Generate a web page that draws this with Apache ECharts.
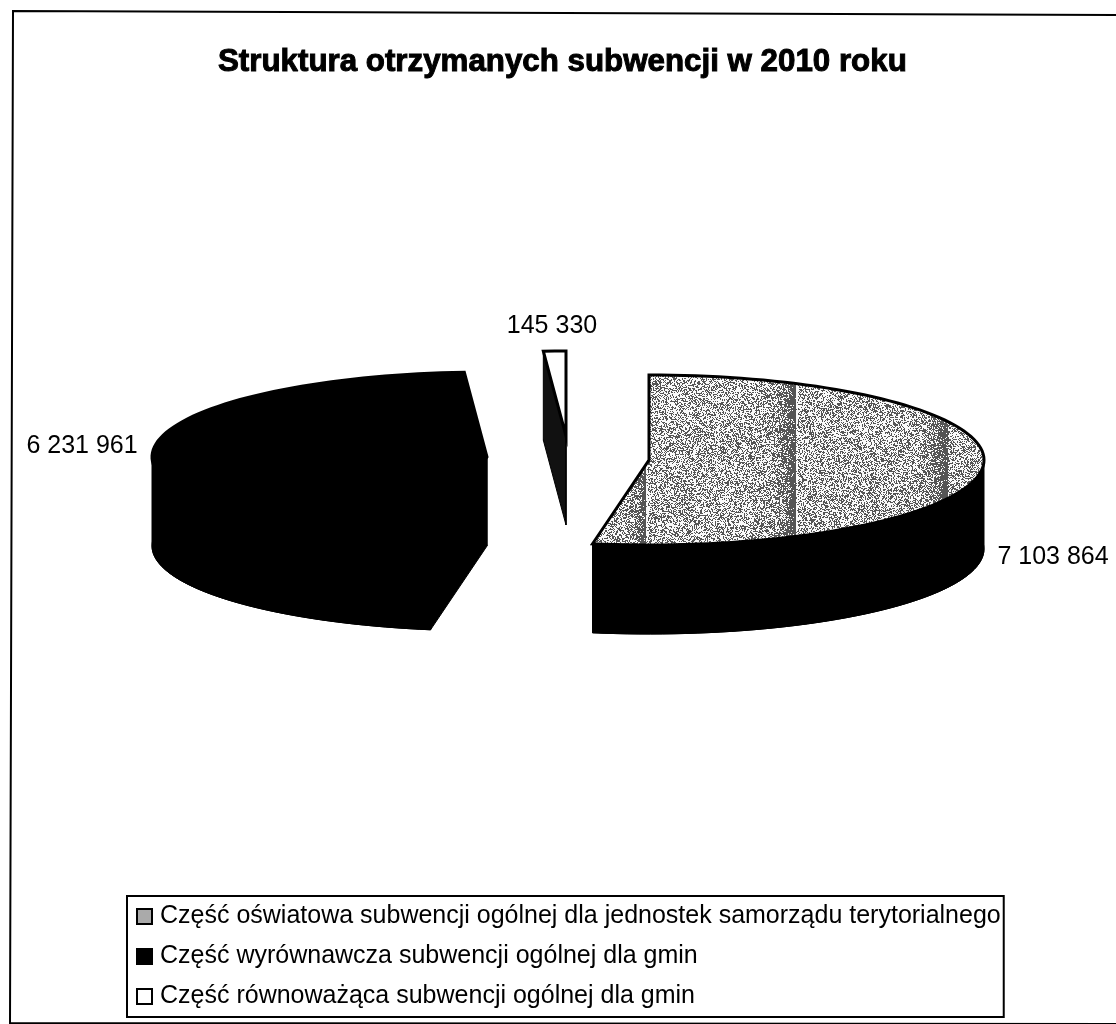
<!DOCTYPE html>
<html>
<head>
<meta charset="utf-8">
<style>html,body{margin:0;padding:0;background:#fff}#pie{width:1116px;height:1024px}</style>
<script src="https://cdn.jsdelivr.net/npm/echarts@6/dist/echarts.min.js"></script>
</head>
<body>
<div id="pie"></div>
<script>
// dane
var titleText = 'Struktura otrzymanych subwencji w 2010 roku';
var categories = [
    'Część oświatowa subwencji ogólnej dla jednostek samorządu terytorialnego',
    'Część wyrównawcza subwencji ogólnej dla gmin',
    'Część równoważąca subwencji ogólnej dla gmin'
];
var values = [7103864, 6231961, 145330];

var total = values.reduce(function (a, b) { return a + b; }, 0);

// uklad kawalkow (rozsuniety pseudo-3D pie)
var slices = [
    {cx: 649, cy: 460, label: [1053, 557], top: null, side: '#000'},
    {cx: 487, cy: 457, label: [82, 446], top: '#000', side: '#000'},
    {cx: 566, cy: 436, label: [552, 326], top: '#fff', side: '#111'}
];
var rx = 335, ry = 85, depth = 89;

function fmt(v) {
    return String(v).replace(/\B(?=(\d{3})+$)/g, ' ');
}

// ziarnista tekstura jak ze skanu, ciemniejsze pasy przy krawedziach cieniowania
function noise(x, y) {
    var h = (x * 374761393 + y * 668265263) | 0;
    h = Math.imul(h ^ (h >>> 13), 1274126177);
    h = h ^ (h >>> 16);
    return (h >>> 0) / 4294967296;
}
function darkness(x) {
    var d = 0.42;
    [[615, 645], [750, 795], [900, 945]].forEach(function (b) {
        if (x > b[0] && x <= b[1]) {
            var t = (x - b[0]) / (b[1] - b[0]);
            d = Math.max(d, 0.42 + 0.55 * t * t * t);
        }
        if (x > b[1] && x <= b[1] + 2) {
            d = b[1] === 945 ? 0.9 : 0.12;
        }
    });
    return d;
}
var tex = document.createElement('canvas');
tex.width = 1116;
tex.height = 1024;
var ctx = tex.getContext('2d');
var img = ctx.createImageData(1116, 1024);
for (var y = 0; y < 1024; y++) {
    for (var x = 0; x < 1116; x++) {
        var c = noise(x, y) < darkness(x) ? 85 : 250;
        var k = (y * 1116 + x) * 4;
        img.data[k] = img.data[k + 1] = img.data[k + 2] = c;
        img.data[k + 3] = 255;
    }
}
ctx.putImageData(img, 0, 0);
var stipple = {image: tex, repeat: 'no-repeat'};

function point(s, deg, dy) {
    var a = deg * Math.PI / 180;
    return [s.cx + rx * Math.sin(a), s.cy - ry * Math.cos(a) + (dy || 0)];
}
function arc(s, from, to, dy) {
    var pts = [];
    var n = Math.max(2, Math.ceil((to - from) / 2));
    for (var i = 0; i <= n; i++) {
        pts.push(point(s, from + (to - from) * i / n, dy));
    }
    return pts;
}

function makeSeries(idx) {
    var start = 0;
    for (var i = 0; i < idx; i++) {
        start += values[i] / total * 360;
    }
    var end = start + values[idx] / total * 360;
    var s = slices[idx];
    return {
        name: categories[idx],
        type: 'custom',
        coordinateSystem: 'none',
        silent: true,
        z: 3,
        data: [values[idx]],
        renderItem: function () {
            var apex = [s.cx, s.cy];
            var lowApex = [s.cx, s.cy + depth];
            var topArc = arc(s, start, end, 0);
            var lowArc = arc(s, start, end, depth);
            var sideStyle = {fill: s.side, stroke: '#000', lineWidth: 1};
            var first = topArc[0], last = topArc[topArc.length - 1];
            var children = [
                {type: 'polygon', shape: {points: [apex].concat(lowArc)}, style: sideStyle},
                {type: 'polygon', shape: {points: [apex, first, [first[0], first[1] + depth], lowApex]}, style: sideStyle},
                {type: 'polygon', shape: {points: [apex, last, [last[0], last[1] + depth], lowApex]}, style: sideStyle}
            ];
            // tylko przednia czesc luku ma widoczna sciane
            var from = Math.max(start, 90), to = Math.min(end, 270);
            if (to > from) {
                children.push({
                    type: 'polygon',
                    shape: {points: arc(s, from, to, 0).concat(arc(s, from, to, depth).reverse())},
                    style: sideStyle
                });
            }
            children.push({
                type: 'polygon',
                shape: {points: [apex].concat(topArc)},
                style: {fill: s.top || stipple, stroke: '#000', lineWidth: 3, lineJoin: 'miter'}
            });
            children.push({
                type: 'text',
                style: {
                    x: s.label[0], y: s.label[1],
                    text: fmt(values[idx]),
                    font: '25px "Liberation Sans"',
                    fill: '#000', align: 'center', verticalAlign: 'middle'
                }
            });
            return {type: 'group', children: children};
        }
    };
}

var pieChart = echarts.init(document.getElementById('pie'), null, {renderer: 'canvas'});

var option = {
    animation: false,
    backgroundColor: '#fff',
    title: {
        text: titleText,
        left: 218,
        top: 47,
        padding: 0,
        textStyle: {
            fontFamily: 'Liberation Sans',
            fontWeight: 'bold',
            fontSize: 31.3,
            color: '#000',
            textBorderColor: '#000',
            textBorderWidth: 1
        }
    },
    legend: {
        orient: 'vertical',
        left: 127,
        top: 896,
        padding: [8, 3, 8, 9],
        itemWidth: 15,
        itemHeight: 15,
        itemGap: 15,
        borderColor: '#000',
        borderWidth: 2,
        selectedMode: false,
        textStyle: {
            fontFamily: 'Liberation Sans',
            fontSize: 25,
            color: '#000',
            padding: [0, 0, 0, 3]
        },
        data: [
            {name: categories[0], icon: 'rect', itemStyle: {color: '#aaa', borderColor: '#000', borderWidth: 2}},
            {name: categories[1], icon: 'rect', itemStyle: {color: '#000', borderColor: '#000', borderWidth: 2}},
            {name: categories[2], icon: 'rect', itemStyle: {color: '#fff', borderColor: '#000', borderWidth: 2}}
        ]
    },
    graphic: [{
        type: 'polyline',
        silent: true,
        shape: {points: [[1116, 15], [13, 11], [10, 1023], [1116, 1024]]},
        style: {fill: 'none', stroke: '#000', lineWidth: 2}
    }],
    series: [makeSeries(2), makeSeries(1), makeSeries(0)]
};
pieChart.setOption(option);
</script>
</body>
</html>
